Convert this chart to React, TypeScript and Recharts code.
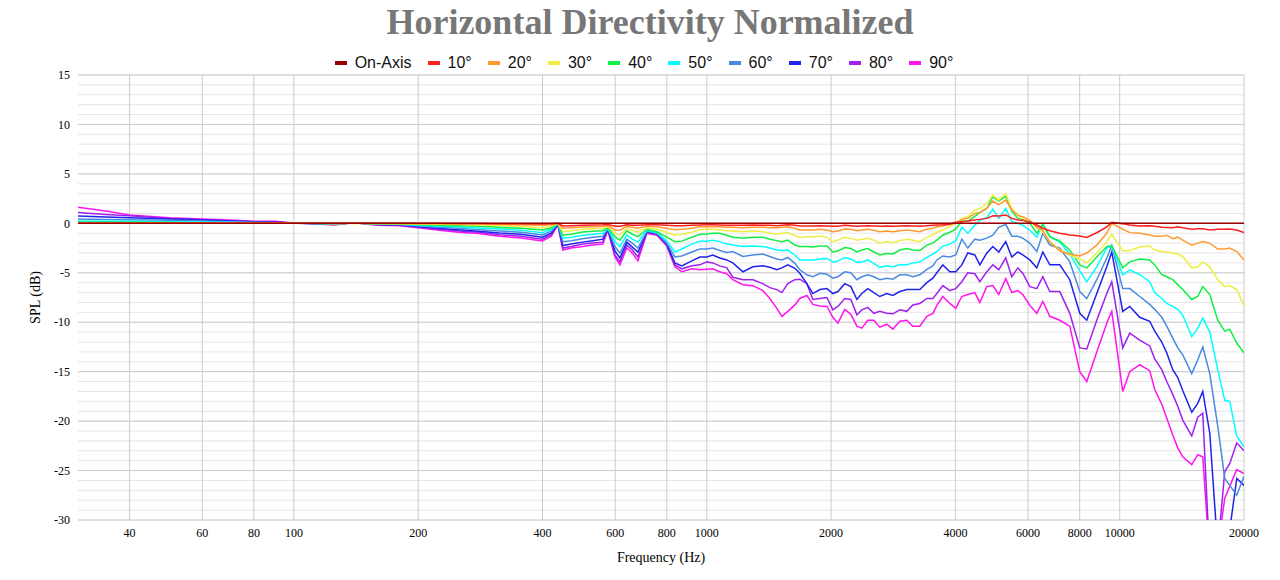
import { CartesianGrid, Legend, Line, LineChart, XAxis, YAxis } from "recharts"

// frequency points (Hz)
const freqs = [
  30, 35, 40, 50, 60, 70, 80, 90, 100, 112, 125, 140, 160, 180, 200, 225, 250, 280, 315, 355,
  400, 420, 436, 448, 470, 500, 530, 560, 576, 599, 616, 640, 660, 681, 716, 757, 800, 837, 870, 920, 962,
  1000, 1034, 1075, 1118, 1156, 1223, 1293, 1367, 1421, 1478, 1520, 1571, 1634, 1680, 1747, 1807, 1879, 1954, 2020, 2077,
  2159, 2233, 2309, 2374, 2454, 2538, 2624, 2729, 2822, 2934, 3051, 3155, 3280, 3411, 3528, 3607, 3729, 3878, 4009, 4145,
  4287, 4458, 4584, 4766, 4929, 5094, 5297, 5478, 5665, 5825, 6057, 6298, 6514, 6772, 7159, 7570, 8004, 8322, 8800, 9304,
  9566, 10170, 10577, 11182, 11822, 12158, 12643, 13001, 13443, 13824, 14213, 14945, 15455, 15892, 16523, 17277, 17963, 18470, 19205, 20000,
]

// normalized SPL (dB) per angle
const onAxis = freqs.map(() => 0)

const deg10 = [
  0, 0, 0, 0, 0, 0, 0, 0, 0, 0, 0, 0, 0, 0, 0, 0, -0.01, -0.02, -0.03, -0.04,
  -0.07, -0.05, 0, -0.27, -0.24, -0.2, -0.17, -0.15, -0.12, -0.3, -0.3, -0.15, -0.2, -0.2, -0.15, -0.15, -0.2, -0.25, -0.25, -0.2, -0.17,
  -0.15, -0.15, -0.17, -0.2, -0.2, -0.2, -0.17, -0.2, -0.2, -0.24, -0.2, -0.15, -0.2, -0.27, -0.27, -0.27, -0.24, -0.27, -0.3, -0.3,
  -0.2, -0.24, -0.3, -0.27, -0.24, -0.27, -0.3, -0.27, -0.3, -0.27, -0.24, -0.27, -0.3, -0.24, -0.2, -0.17, -0.15, -0.1, 0.1, 0.17,
  0.24, 0.34, 0.4, 0.5, 0.77, 0.75, 0.85, 0.5, 0.34, 0.3, 0.15, -0.17, -0.5, -0.75, -1.0, -1.18, -1.28, -1.42, -0.95, -0.35,
  0.1, -0.05, -0.17, -0.27, -0.24, -0.3, -0.4, -0.42, -0.44, -0.34, -0.45, -0.6, -0.54, -0.54, -0.67, -0.6, -0.6, -0.57, -0.67, -0.94,
]

const deg20 = [
  0.02, 0.02, 0.02, 0.02, 0.02, 0.01, 0.01, 0.01, 0, 0, -0.01, 0.01, -0.01, -0.02, -0.03, -0.05, -0.06, -0.08, -0.1, -0.14,
  -0.2, -0.15, 0, -0.5, -0.44, -0.37, -0.34, -0.3, -0.25, -0.67, -0.7, -0.3, -0.4, -0.5, -0.3, -0.35, -0.5, -0.65, -0.6, -0.5, -0.35,
  -0.34, -0.34, -0.34, -0.4, -0.4, -0.44, -0.4, -0.4, -0.44, -0.44, -0.4, -0.34, -0.5, -0.67, -0.67, -0.67, -0.6, -0.67, -0.84, -0.77,
  -0.57, -0.6, -0.74, -0.67, -0.6, -0.7, -0.84, -0.77, -0.84, -0.74, -0.67, -0.74, -0.84, -0.6, -0.5, -0.34, -0.27, -0.1, 0, 0.4,
  0.5, 1.0, 1.1, 1.5, 2.25, 1.9, 2.35, 1.35, 0.8, 0.67, 0.3, -0.4, -0.7, -1.9, -2.8, -3.1, -3.3, -3.0, -2.2, -1.0,
  0, -0.6, -0.94, -1.0, -1.18, -1.3, -1.3, -1.2, -1.55, -1.4, -1.7, -2.2, -2.0, -1.85, -2.0, -2.6, -2.6, -2.5, -2.85, -3.7,
]

const deg30 = [
  0.05, 0.05, 0.05, 0.04, 0.03, 0.03, 0.02, 0.02, 0.01, 0, -0.02, 0.02, -0.02, -0.04, -0.07, -0.1, -0.13, -0.17, -0.23, -0.3,
  -0.44, -0.3, 0, -0.84, -0.74, -0.6, -0.54, -0.5, -0.35, -1.0, -1.2, -0.5, -0.7, -0.9, -0.45, -0.6, -0.9, -1.2, -1.1, -0.9, -0.65,
  -0.6, -0.6, -0.67, -0.74, -0.77, -0.84, -0.74, -0.84, -1.0, -1.08, -1.0, -0.95, -1.2, -1.42, -1.35, -1.35, -1.28, -1.42, -1.85, -1.7,
  -1.42, -1.52, -1.7, -1.62, -1.52, -1.7, -2.0, -1.85, -1.95, -1.75, -1.6, -1.7, -1.85, -1.42, -1.18, -0.9, -0.67, -0.34, 0, 0.5,
  0.67, 1.35, 1.5, 2.0, 2.85, 2.35, 3.0, 1.5, 0.85, 0.5, 0.3, -0.4, -0.9, -1.85, -2.7, -3.2, -3.6, -4.0, -3.0, -1.85,
  -1.1, -2.8, -2.75, -2.4, -2.3, -2.7, -2.85, -2.9, -3.0, -3.1, -3.35, -4.5, -4.4, -3.9, -4.4, -5.7, -6.4, -6.3, -6.7, -8.35,
]

const deg40 = [
  0.1, 0.1, 0.1, 0.08, 0.07, 0.05, 0.04, 0.03, 0.01, 0, -0.03, 0.03, -0.04, -0.06, -0.13, -0.2, -0.24, -0.3, -0.4, -0.5,
  -0.67, -0.45, 0, -1.2, -1.1, -0.88, -0.8, -0.74, -0.45, -1.35, -1.7, -0.75, -1.1, -1.35, -0.6, -0.85, -1.4, -1.85, -1.8, -1.4, -1.1,
  -1.07, -1.0, -1.0, -1.2, -1.4, -1.5, -1.4, -1.4, -1.6, -1.75, -1.85, -1.7, -2.2, -2.35, -2.35, -2.4, -2.3, -2.3, -2.9, -2.8,
  -2.45, -2.55, -2.9, -2.7, -2.55, -2.9, -3.2, -3.05, -3.1, -2.7, -2.55, -2.7, -2.75, -2.2, -2.0, -1.7, -1.2, -0.9, -0.6, 0.2,
  0.2, 0.7, 1.1, 1.5, 2.7, 2.25, 2.75, 1.2, 0.5, 0.35, 0, -1.0, -0.1, -1.35, -1.8, -2.7, -4.2, -4.5, -3.4, -2.35,
  -2.25, -4.5, -3.9, -3.6, -3.7, -4.2, -5.2, -5.4, -5.7, -6.2, -6.7, -7.7, -7.4, -6.4, -7.2, -9.8, -10.9, -10.7, -12.1, -13.1,
]

const deg50 = [
  0.24, 0.22, 0.2, 0.17, 0.13, 0.1, 0.07, 0.05, 0.02, -0.01, -0.05, 0.04, -0.07, -0.1, -0.2, -0.3, -0.37, -0.47, -0.57, -0.7,
  -0.94, -0.6, 0, -1.5, -1.4, -1.2, -1.1, -1.0, -0.5, -1.85, -2.35, -1.2, -1.6, -1.9, -0.7, -0.95, -1.8, -2.9, -2.6, -2.1, -1.8,
  -1.8, -1.7, -1.85, -2.1, -2.2, -2.35, -2.3, -2.35, -2.5, -2.7, -2.75, -2.7, -3.2, -3.7, -3.7, -3.7, -3.6, -3.55, -3.9, -3.8,
  -3.45, -3.6, -3.95, -3.9, -3.7, -4.05, -4.45, -4.3, -4.4, -4.2, -4.2, -4.0, -3.9, -3.45, -3.1, -2.85, -2.3, -2.1, -1.75, -0.4,
  -1.0, -0.2, 0.3, 0.6, 1.45, 0.5, 1.5, 0.17, 0, -0.2, -0.7, -1.4, -0.05, -1.35, -1.9, -3.1, -4.8, -5.9, -4.4, -2.5,
  -2.3, -5.2, -4.7, -5.2, -5.9, -7.0, -7.6, -8.1, -8.4, -8.7, -9.3, -11.45, -10.6, -9.6, -11.0, -14.8, -17.9, -18.0, -21.5, -22.6,
]

const deg60 = [
  0.44, 0.4, 0.37, 0.3, 0.24, 0.17, 0.1, 0.07, 0.02, -0.02, -0.07, 0.05, -0.1, -0.13, -0.27, -0.4, -0.5, -0.64, -0.77, -0.9,
  -1.18, -0.8, -0.05, -1.85, -1.75, -1.55, -1.4, -1.3, -0.55, -2.35, -3.0, -1.6, -2.0, -2.5, -0.8, -1.0, -2.0, -3.4, -3.3, -2.9, -2.6,
  -2.6, -2.5, -2.75, -2.95, -2.85, -3.35, -3.2, -3.1, -3.35, -3.6, -3.7, -3.45, -4.05, -4.7, -5.2, -5.4, -5.05, -5.15, -5.55, -5.4,
  -4.9, -5.0, -5.7, -5.4, -5.2, -5.4, -5.7, -5.55, -5.65, -5.2, -5.2, -5.4, -5.2, -4.65, -4.3, -3.7, -3.3, -3.4, -3.2, -1.6,
  -2.5, -1.6, -1.7, -1.5, -1.2, -0.4, -0.1, -1.3, -1.3, -1.5, -2.0, -2.85, -1.0, -2.2, -2.5, -3.9, -6.9, -7.6, -5.7, -3.5,
  -2.25, -6.6, -6.6, -7.4, -8.2, -8.7, -9.5, -10.4, -11.6, -12.6, -13.3, -15.2, -13.8, -12.5, -15.2, -20.5, -25.8, -26.5, -27.5, -25.6,
]

const deg70 = [
  0.74, 0.64, 0.57, 0.44, 0.34, 0.24, 0.15, 0.1, 0.03, -0.02, -0.1, 0.07, -0.13, -0.17, -0.34, -0.5, -0.64, -0.8, -0.98, -1.1,
  -1.4, -1.0, -0.1, -2.25, -2.1, -1.9, -1.75, -1.6, -0.6, -2.8, -3.5, -1.9, -2.4, -2.9, -0.85, -1.05, -2.1, -4.0, -4.3, -3.8, -3.4,
  -3.4, -3.2, -3.5, -3.7, -4.0, -4.9, -4.4, -4.3, -4.45, -4.7, -4.5, -4.2, -4.55, -5.05, -6.1, -7.1, -6.7, -6.6, -7.1, -6.9,
  -6.1, -6.4, -7.7, -7.1, -6.6, -7.0, -7.4, -7.1, -7.3, -6.9, -6.7, -6.7, -6.7, -6.0, -5.55, -5.0, -4.2, -4.9, -4.9, -4.2,
  -3.0, -3.2, -4.2, -3.0, -2.35, -2.9, -1.85, -3.4, -2.9, -3.2, -3.7, -4.5, -2.9, -4.2, -4.2, -5.7, -9.1, -9.8, -7.1, -4.4,
  -2.9, -8.9, -8.4, -9.5, -9.9, -10.9, -12.0, -13.1, -14.8, -15.6, -16.9, -19.1, -18.2, -17.0, -21.2, -33, -34, -31, -25.8, -26.5,
]

const deg80 = [
  1.1, 0.9, 0.77, 0.5, 0.37, 0.27, 0.17, 0.12, 0.03, -0.03, -0.13, 0.07, -0.17, -0.2, -0.37, -0.6, -0.78, -0.9, -1.15, -1.3,
  -1.6, -1.15, -0.1, -2.5, -2.35, -2.1, -2.0, -1.9, -0.65, -3.2, -3.9, -2.2, -2.7, -3.4, -0.9, -1.1, -2.2, -4.2, -4.6, -4.3, -4.2,
  -3.9, -4.0, -4.3, -4.5, -5.45, -5.7, -5.7, -6.1, -6.5, -6.7, -7.0, -6.1, -5.7, -5.65, -6.1, -7.7, -7.6, -7.5, -8.75, -8.4,
  -7.6, -7.7, -9.25, -8.75, -8.5, -9.1, -8.9, -9.1, -9.15, -8.75, -8.9, -8.25, -8.1, -7.6, -7.6, -7.1, -6.3, -6.8, -6.6, -5.9,
  -5.0, -5.1, -5.9, -4.9, -4.2, -4.7, -3.5, -5.4, -4.5, -5.05, -6.4, -6.6, -5.4, -6.9, -6.9, -9.1, -12.6, -12.7, -9.8, -7.1,
  -5.9, -12.6, -11.1, -11.8, -12.4, -13.7, -14.8, -16.0, -17.3, -18.5, -19.9, -21.5, -19.6, -19.2, -34, -33, -25.1, -24.3, -22.2, -23.0,
]

const deg90 = [
  1.62, 1.25, 0.85, 0.57, 0.44, 0.34, 0.2, 0.2, 0.03, -0.05, -0.17, 0.07, -0.2, -0.24, -0.44, -0.7, -0.9, -1.04, -1.3, -1.48,
  -1.78, -1.3, -0.15, -2.7, -2.5, -2.35, -2.2, -2.1, -0.7, -3.4, -4.2, -2.5, -3.0, -3.8, -1.0, -1.2, -2.3, -4.4, -4.9, -4.6, -4.7,
  -4.65, -4.6, -4.9, -5.1, -5.7, -6.2, -6.3, -6.8, -7.6, -8.6, -9.4, -8.9, -8.25, -7.6, -7.3, -8.2, -8.35, -8.4, -9.5, -10.1,
  -8.7, -9.2, -10.4, -10.6, -9.8, -9.8, -10.5, -10.2, -10.7, -9.9, -9.8, -10.4, -10.4, -9.4, -9.1, -8.3, -7.4, -8.1, -8.6, -7.4,
  -7.2, -7.0, -8.0, -6.4, -6.3, -7.2, -5.6, -7.0, -6.8, -7.2, -8.3, -9.1, -7.9, -9.4, -9.8, -10.4, -15.0, -16.0, -13.0, -10.1,
  -8.9, -17.0, -15.0, -14.3, -14.9, -16.8, -18.3, -19.7, -21.4, -22.7, -23.6, -24.4, -23.4, -23.6, -34, -33, -27.8, -26.6, -24.9, -25.3,
]

const xTicks = [40, 60, 80, 100, 200, 400, 600, 800, 1000, 2000, 4000, 6000, 8000, 10000, 20000]
const yTicks = [-30, -25, -20, -15, -10, -5, 0, 5, 10, 15]
const yMinor = Array.from({ length: 46 }, (_, i) => i - 30)

const series = [
  { key: "on", name: "On-Axis", color: "#9b0000", values: onAxis },
  { key: "d10", name: "10°", color: "#ff1f1f", values: deg10 },
  { key: "d20", name: "20°", color: "#ff9a33", values: deg20 },
  { key: "d30", name: "30°", color: "#eeee44", values: deg30 },
  { key: "d40", name: "40°", color: "#11ee44", values: deg40 },
  { key: "d50", name: "50°", color: "#00ffff", values: deg50 },
  { key: "d60", name: "60°", color: "#4a8ae0", values: deg60 },
  { key: "d70", name: "70°", color: "#2222ee", values: deg70 },
  { key: "d80", name: "80°", color: "#a020f0", values: deg80 },
  { key: "d90", name: "90°", color: "#ff14ee", values: deg90 },
]

const data = freqs.map((f, i) => {
  const row: Record<string, number> = { f }
  series.forEach((s) => {
    row[s.key] = s.values[i]
  })
  return row
})

const serif = "'Times New Roman', 'Liberation Serif', serif"
const sans = "Arial, 'Liberation Sans', sans-serif"

const renderLegend = () => (
  <div
    style={{
      display: "flex",
      justifyContent: "center",
      alignItems: "center",
      height: 25,
      fontFamily: sans,
      fontSize: 16,
      color: "#111",
    }}
  >
    {series.map((s, i) => (
      <span
        key={s.key}
        style={{ display: "inline-flex", alignItems: "center", marginRight: i === series.length - 1 ? 0 : 16 }}
      >
        <span style={{ display: "inline-block", width: 12, height: 4, background: s.color, marginRight: 8 }} />
        {s.name}
      </span>
    ))}
  </div>
)

export default function App() {
  return (
    <div style={{ position: "relative", width: 1280, height: 580, background: "#fff" }}>
      <style>{"body{margin:0}"}</style>
      <div
        style={{
          position: "absolute",
          top: 4,
          left: 0,
          width: 1300,
          textAlign: "center",
          fontFamily: serif,
          fontWeight: "bold",
          fontSize: 36,
          lineHeight: "36px",
          color: "#777",
        }}
      >
        Horizontal Directivity Normalized
      </div>
      <LineChart width={1280} height={580} data={data} margin={{ top: 50, right: 36, bottom: 0, left: 0 }}>
        <CartesianGrid vertical={false} horizontalValues={yMinor} stroke="#e6e6e6" />
        <CartesianGrid horizontalValues={yTicks} verticalValues={xTicks} stroke="#cccccc" />
        <XAxis
          dataKey="f"
          type="number"
          scale="log"
          domain={[30, 20000]}
          ticks={xTicks}
          interval={0}
          allowDataOverflow
          axisLine={false}
          tickLine={false}
          height={60}
          tick={{ fontFamily: serif, fontSize: 12, fill: "#000" }}
          label={{ value: "Frequency (Hz)", position: "insideBottom", offset: 18, fontFamily: serif, fontSize: 14, fill: "#000" }}
        />
        <YAxis
          type="number"
          domain={[-30, 15]}
          ticks={yTicks}
          interval={0}
          allowDataOverflow
          axisLine={false}
          tickLine={false}
          width={78}
          tick={{ fontFamily: serif, fontSize: 12, fill: "#000" }}
          label={{
            value: "SPL (dB)",
            angle: -90,
            position: "insideLeft",
            offset: 35,
            fontFamily: serif,
            fontSize: 14,
            fill: "#000",
            style: { textAnchor: "middle" },
          }}
        />
        <Legend verticalAlign="top" content={renderLegend} wrapperStyle={{ top: 50, left: 0, width: 1288 }} />
        {[...series].reverse().map((s) => (
          <Line
            key={s.key}
            type="linear"
            dataKey={s.key}
            name={s.name}
            stroke={s.color}
            strokeWidth={1.5}
            dot={false}
            activeDot={false}
            isAnimationActive={false}
          />
        ))}
      </LineChart>
    </div>
  )
}
